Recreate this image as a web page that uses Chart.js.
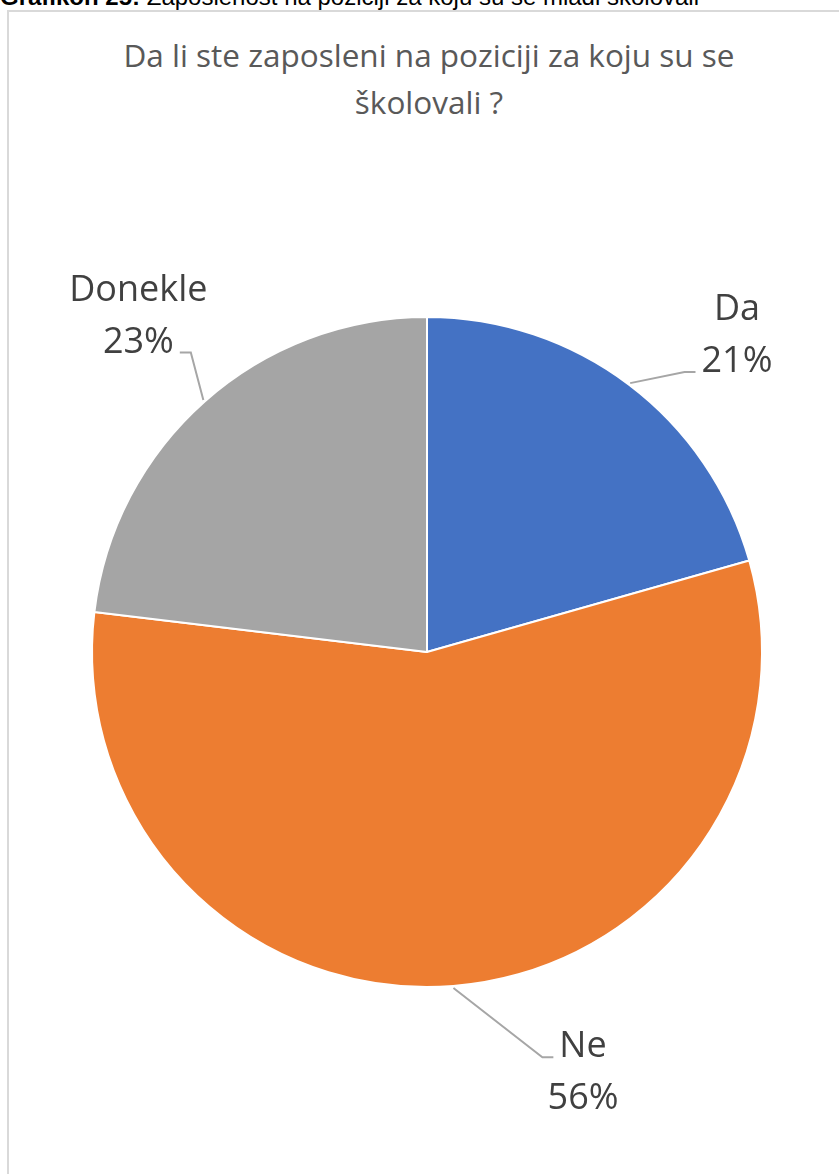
<!DOCTYPE html>
<html>
<head>
<meta charset="utf-8">
<script src="https://cdn.jsdelivr.net/npm/chart.js@4.4.1/dist/chart.umd.min.js"></script>
<style>
  html, body { margin: 0; padding: 0; background: #fff; overflow: hidden; }
  body { width: 839px; height: 1174px; position: relative; }
  #caption {
    position: absolute; left: 0; top: -15px; white-space: nowrap;
    font: 24px/24px "Liberation Sans", Arial, sans-serif; color: #000;
  }
  #frame {
    position: absolute; left: 7px; top: 10px; width: 900px; height: 1300px;
    border: 2px solid #d9d9d9; box-sizing: border-box;
  }
  #title {
    position: absolute; left: 0; width: 858px; top: 31px; text-align: center;
    font: 31.5px/47px "Open Sans", sans-serif; color: #595959;
  }
  canvas { position: absolute; left: 0; top: 0; }
</style>
</head>
<body>
<div id="caption"><b>Grafikon 25:</b> Zaposlenost na poziciji za koju su se mladi školovali</div>
<div id="frame"></div>
<div id="title">Da li ste zaposleni na poziciji za koju su se<br>školovali ?</div>
<canvas id="chart" width="839" height="1174"></canvas>
<script>
// ── Data ──────────────────────────────────────────────
const labels  = ["Da", "Ne", "Donekle"];
const values  = [20.6, 56.3, 23.1];
const colors  = ["#4472C4", "#ED7D31", "#A5A5A5"];

// label angle tweaks (deg), like Excel's best-fit placement
const nudges  = [7, -16, 1.2];

// ── Leader-line labels ────────────────────────────────
const pieLabels = {
  id: "pieLabels",
  afterDatasetsDraw(chart) {
    const ctx  = chart.ctx;
    const arcs = chart.getDatasetMeta(0).data;
    const total = values.reduce((a, b) => a + b, 0);
    ctx.save();
    ctx.font = '36px "Open Sans", sans-serif';
    ctx.fillStyle = "#404040";
    ctx.textAlign = "center";
    ctx.textBaseline = "alphabetic";
    arcs.forEach((arc, i) => {
      const { x, y, startAngle, endAngle, outerRadius: r } = arc.getProps(["x", "y", "startAngle", "endAngle", "outerRadius"], true);
      const mid = (startAngle + endAngle) / 2;
      const la  = mid + nudges[i] * Math.PI / 180;
      const cx  = x + Math.cos(la) * r * 1.33;
      const cy  = y + Math.sin(la) * r * 1.33;
      const l1  = labels[i];
      const l2  = Math.round(values[i] / total * 100) + "%";
      const b1  = cy - 12, b2 = cy + 40;   // baselines
      ctx.fillText(l1, cx, b1);
      ctx.fillText(l2, cx, b2);

      // leader line
      const ex = x + Math.cos(mid) * (r + 2);
      const ey = y + Math.sin(mid) * (r + 2);
      const below = cy > y;
      const txt = below ? l1 : l2;
      const by  = below ? b1 : b2;
      const w   = ctx.measureText(txt).width;
      const right = cx > ex;
      const tx  = right ? cx - w / 2 - 6 : cx + w / 2 + 6;
      const kx  = right ? tx - 11 : tx + 11;
      ctx.beginPath();
      ctx.moveTo(ex, ey);
      ctx.lineTo(kx, by);
      ctx.lineTo(tx, by);
      ctx.strokeStyle = "#a6a6a6";
      ctx.lineWidth = 2;
      ctx.stroke();
    });
    ctx.restore();
  }
};

// ── Chart ─────────────────────────────────────────────
new Chart(document.getElementById("chart"), {
  type: "pie",
  data: {
    labels,
    datasets: [{
      data: values,
      backgroundColor: colors,
      borderColor: "#ffffff",
      borderWidth: 2
    }]
  },
  options: {
    responsive: false,
    animation: false,
    layout: { padding: { left: 91, right: 76, top: 316, bottom: 186 } },
    plugins: {
      legend:  { display: false },
      tooltip: { enabled: false }
    }
  },
  plugins: [pieLabels]
});
</script>
</body>
</html>
